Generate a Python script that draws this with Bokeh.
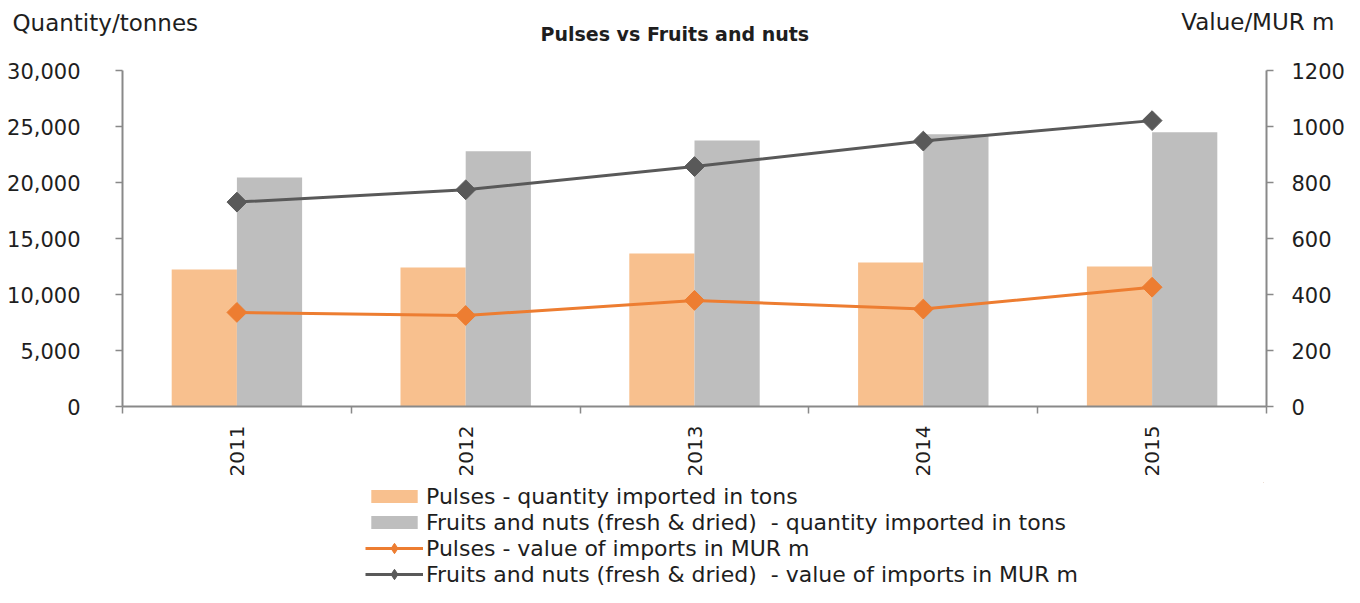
import math
from bokeh.plotting import figure
from bokeh.layouts import column
from bokeh.models import (Range1d, LinearAxis, FixedTicker, NumeralTickFormatter,
                          Legend, LegendItem, Title, ColumnDataSource)
from bokeh.transform import dodge
from bokeh.embed import file_html
from bokeh.resources import INLINE

# ---- data ----
years = [2011, 2012, 2013, 2014, 2015]
pulses_qty = [12230, 12410, 13660, 12860, 12500]
fruits_qty = [20450, 22800, 23750, 24300, 24490]
pulses_val = [336, 325, 379, 348, 426]
fruits_val = [730, 774, 857, 948, 1021]

left_ticks = [0, 5000, 10000, 15000, 20000, 25000, 30000]
right_ticks = [0, 200, 400, 600, 800, 1000, 1200]

title_text = "Pulses vs Fruits and nuts"
left_title = "Quantity/tonnes"
right_title = "Value/MUR m"
legend_labels = [
    "Pulses - quantity imported in tons",
    "Fruits and nuts (fresh & dried)  - quantity imported in tons",
    "Pulses - value of imports in MUR m",
    "Fruits and nuts (fresh & dried)  - value of imports in MUR m",
]

# ---- style ----
FONT = "DejaVu Sans"
AXIS_COL = "#898989"
TXT = "#1e1e1e"
C_PULSE_BAR = "#F8C08E"
C_FRUIT_BAR = "#BEBEBE"
C_PULSE_LINE = "#ED7D31"
C_FRUIT_LINE = "#595959"

W = 1344
HEAD_H = 50
MAIN_TOP = 20
FRAME_H = 336
MAIN_BOTTOM = 76
FOOT_H = 587 - HEAD_H - MAIN_TOP - FRAME_H - MAIN_BOTTOM
ROW_H = 26


def blank(fig):
    fig.outline_line_color = None
    fig.background_fill_color = "white"
    fig.border_fill_color = "white"


# ---- header: chart title and axis titles ----
ph = figure(width=W, height=HEAD_H, frame_height=1,
            min_border_left=122, min_border_right=78, min_border_top=21, min_border_bottom=28,
            x_axis_type=None, y_axis_type=None,
            output_backend="svg", toolbar_location=None, tools="")
blank(ph)
ph.add_layout(Title(text=right_title, align="right", offset=-71, vertical_align="bottom",
                    standoff=-27.8, text_font=FONT, text_font_size="23px",
                    text_font_style="normal", text_color=TXT), "above")
ph.add_layout(Title(text=left_title, align="left", offset=-110, vertical_align="top",
                    standoff=-25.8, text_font=FONT, text_font_size="23px",
                    text_font_style="normal", text_color=TXT), "below")
ph.add_layout(Title(text=title_text, align="left", offset=418, vertical_align="top",
                    standoff=-2.1, text_font=FONT, text_font_size="19px",
                    text_font_style="bold", text_color=TXT), "below")

# ---- main chart ----
src = ColumnDataSource(dict(x=years, pq=pulses_qty, fq=fruits_qty, pv=pulses_val, fv=fruits_val))

p = figure(width=W, height=MAIN_TOP + FRAME_H + MAIN_BOTTOM, frame_width=1144, frame_height=FRAME_H,
           min_border_left=122, min_border_right=78, min_border_top=MAIN_TOP,
           min_border_bottom=MAIN_BOTTOM,
           x_range=Range1d(2010.5, 2015.5), y_range=Range1d(0, 30000),
           output_backend="svg", toolbar_location=None, tools="")
p.extra_y_ranges = {"val": Range1d(0, 1200)}
blank(p)
p.xgrid.visible = False
p.ygrid.visible = False

bw = 0.285
p.vbar(x=dodge("x", -bw / 2), top="pq", width=bw, source=src,
       fill_color=C_PULSE_BAR, line_color=None)
p.vbar(x=dodge("x", bw / 2), top="fq", width=bw, source=src,
       fill_color=C_FRUIT_BAR, line_color=None)
p.line("x", "pv", source=src, y_range_name="val", line_color=C_PULSE_LINE, line_width=3)
p.scatter("x", "pv", source=src, y_range_name="val", marker="square", angle=math.pi / 4,
          size=14, fill_color=C_PULSE_LINE, line_color=C_PULSE_LINE)
p.line("x", "fv", source=src, y_range_name="val", line_color=C_FRUIT_LINE, line_width=3)
p.scatter("x", "fv", source=src, y_range_name="val", marker="square", angle=math.pi / 4,
          size=14, fill_color=C_FRUIT_LINE, line_color=C_FRUIT_LINE)


def style_axis(ax):
    ax.axis_line_color = AXIS_COL
    ax.axis_line_width = 2
    ax.major_tick_line_color = AXIS_COL
    ax.major_tick_line_width = 1.5
    ax.major_tick_out = 7
    ax.major_tick_in = 0
    ax.minor_tick_line_color = None
    ax.major_label_text_font = FONT
    ax.major_label_text_font_size = "21px"
    ax.major_label_text_color = TXT


xa = p.xaxis[0]
xa.ticker = FixedTicker(ticks=years, minor_ticks=[y - 0.5 for y in years] + [years[-1] + 0.5])
style_axis(xa)
xa.major_label_text_font_size = "20px"
xa.major_tick_line_color = None
xa.minor_tick_line_color = AXIS_COL
xa.minor_tick_line_width = 1.5
xa.minor_tick_out = 7
xa.minor_tick_in = 0
xa.major_label_orientation = math.pi / 2
xa.major_label_standoff = 12

ya = p.yaxis[0]
ya.ticker = FixedTicker(ticks=left_ticks)
ya.formatter = NumeralTickFormatter(format="0,0")
style_axis(ya)
ya.major_label_standoff = 35

ra = LinearAxis(y_range_name="val", ticker=FixedTicker(ticks=right_ticks))
style_axis(ra)
ra.major_label_standoff = 18
p.add_layout(ra, "right")

# ---- footer: legend; its renderers use the same series, drawn outside the footer's view ----
pf = figure(width=W, height=FOOT_H, min_border_left=122, min_border_right=78,
            min_border_top=0, min_border_bottom=0,
            x_range=Range1d(0, 1), y_range=Range1d(-2, -1),
            x_axis_type=None, y_axis_type=None,
            output_backend="svg", toolbar_location=None, tools="")
blank(pf)
s_pb = pf.vbar(x="x", top="pq", width=0.1, source=src, fill_color=C_PULSE_BAR, line_color=None)
s_fb = pf.vbar(x="x", top="fq", width=0.1, source=src, fill_color=C_FRUIT_BAR, line_color=None)
s_pl = pf.line("x", "pv", source=src, line_color=C_PULSE_LINE, line_width=3)
s_ps = pf.scatter("x", "pv", source=src, marker="diamond", size=17,
                  fill_color=C_PULSE_LINE, line_color=C_PULSE_LINE)
s_fl = pf.line("x", "fv", source=src, line_color=C_FRUIT_LINE, line_width=3)
s_fs = pf.scatter("x", "fv", source=src, marker="diamond", size=17,
                  fill_color=C_FRUIT_LINE, line_color=C_FRUIT_LINE)

common = dict(orientation="vertical", label_text_font=FONT, label_text_font_size="22px",
              label_text_color=TXT, label_height=ROW_H, glyph_width=58, label_standoff=3,
              spacing=0, padding=0, margin=0, border_line_color=None, background_fill_alpha=0)
legend_bars = Legend(items=[
    LegendItem(label=legend_labels[0], renderers=[s_pb]),
    LegendItem(label=legend_labels[1], renderers=[s_fb]),
], location=(243, 2 * ROW_H), glyph_height=16, **common)
legend_lines = Legend(items=[
    LegendItem(label=legend_labels[2], renderers=[s_pl, s_ps]),
    LegendItem(label=legend_labels[3], renderers=[s_fl, s_fs]),
], location=(243, 0), glyph_height=ROW_H, **common)
pf.add_layout(legend_bars, "center")
pf.add_layout(legend_lines, "center")

layout = column(ph, p, pf, spacing=0)
open("out.html", "w").write(file_html(layout, INLINE))
